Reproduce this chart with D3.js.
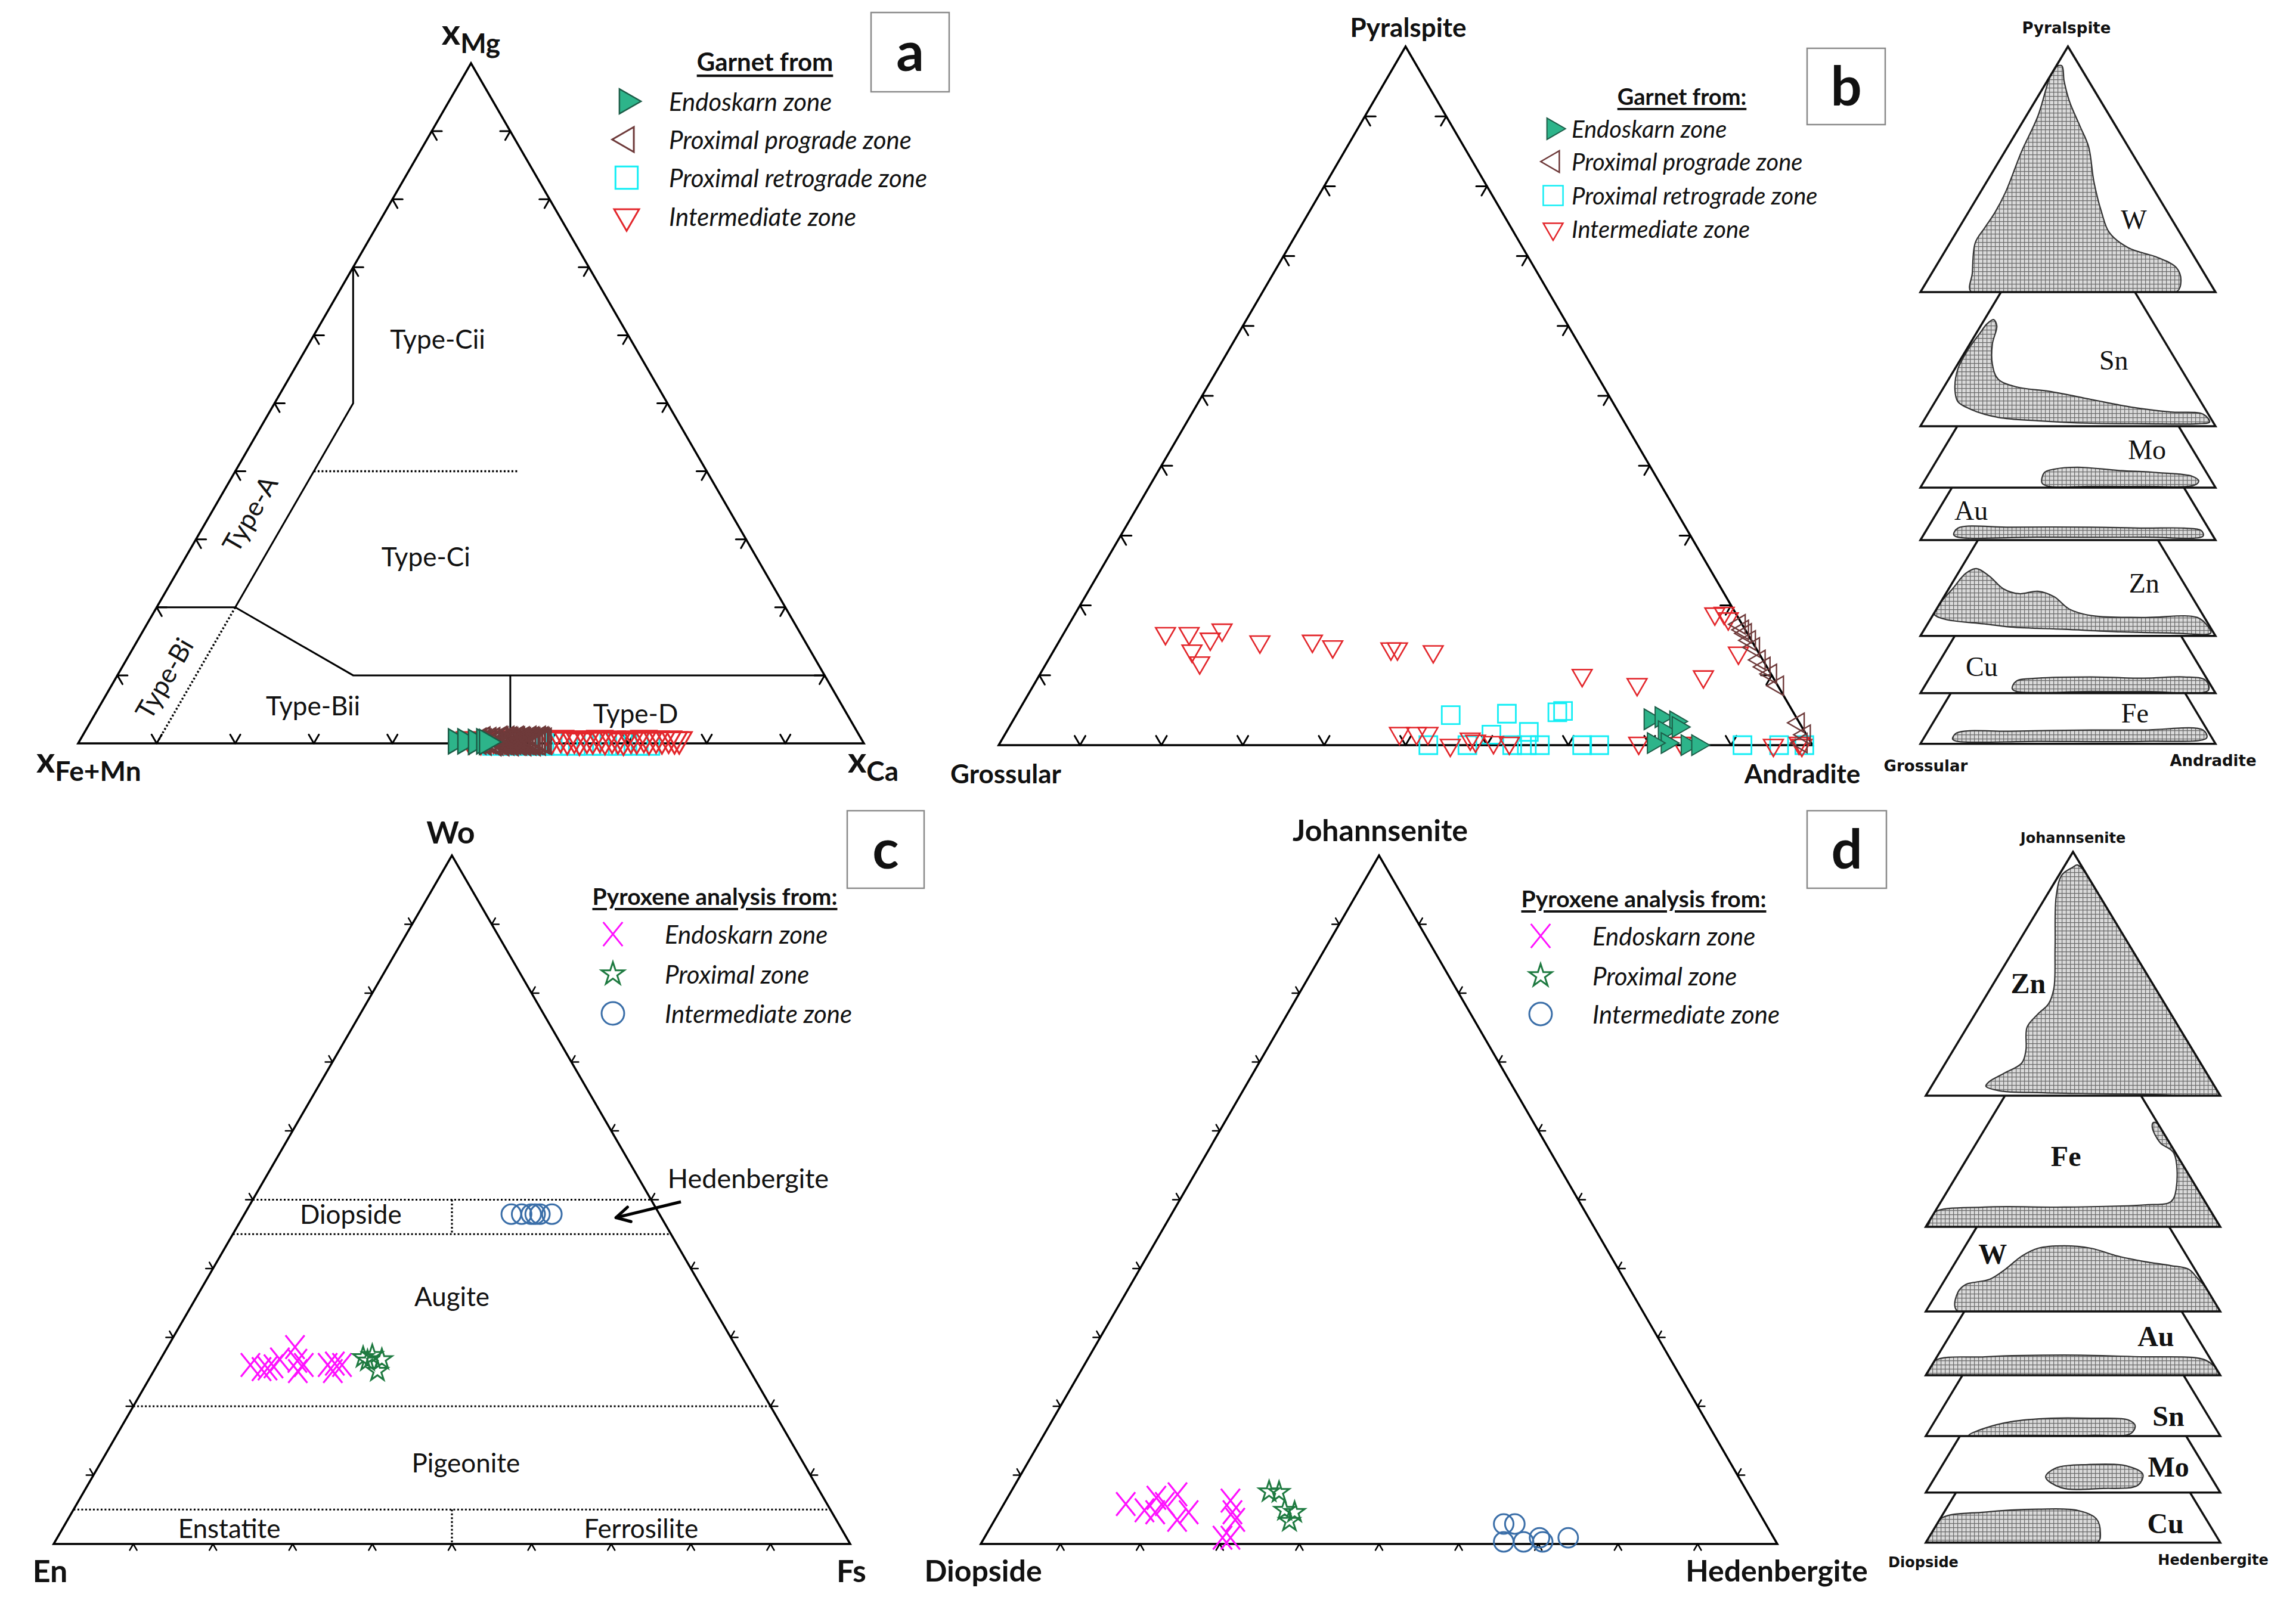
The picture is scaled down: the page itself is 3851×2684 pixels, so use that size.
<!DOCTYPE html>
<html>
<head>
<meta charset="utf-8">
<script src="https://cdn.jsdelivr.net/npm/d3@7"></script>
<style>
  body { margin: 0; background: #fff; }
  svg { display: block; }
  text { fill: #111; }
</style>
</head>
<body>
<div id="chart"></div>
<script>
// ---------- data (percent values) ----------
// panel a : [XCa, XMg]
const aEndoskarn = [[47.9, 0.3], [49.1, 0.3], [50.5, 0.2], [51.5, 0.3], [51.9, 0.2]];
const aPrograde = [[50.8, 0.3], [51.2, 0.5], [51.5, 0.2], [52.0, 0.4], [52.5, 0.4], [52.8, 0.1], [53.0, 0.2],
  [53.3, 0.6], [53.5, 0.5], [53.8, 0.1], [54.0, 0.3], [54.2, 0.6], [54.4, 0.2], [54.6, 0.5], [54.8, 0.4],
  [55.0, 0.1], [55.2, 0.3], [55.4, 0.6], [55.6, 0.5], [55.8, 0.2], [56.0, 0.2], [56.2, 0.5], [56.4, 0.4],
  [56.6, 0.1], [56.8, 0.3], [57.0, 0.6], [57.2, 0.2], [57.4, 0.5], [57.6, 0.4], [57.8, 0.1], [58.0, 0.3],
  [58.2, 0.6], [58.4, 0.2], [58.6, 0.5], [58.8, 0.4], [59.1, 0.3]];
const aRetrograde = [[53, 0], [55, 0], [57, 0], [59, 0], [61, 0], [63, 0], [65, 0], [67, 0], [69, 0], [71, 0], [72.5, 0]];
const aIntermediate = [[49.5, 0.6], [51, 0.5], [52.5, 0.7], [54, 0.6], [60, 0.6], [61, 0.8], [62, 0.5], [62.8, 0.7],
  [63.6, 0.4], [64.4, 0.7], [65.2, 0.6], [66, 0.8], [66.8, 0.5], [67.6, 0.7], [68.4, 0.6], [69.2, 0.4],
  [70, 0.7], [70.8, 0.6], [71.6, 0.8], [72.4, 0.5], [73.2, 0.7], [74, 0.6], [74.8, 0.7], [75.6, 0.6], [76.2, 0.6]];

// panel b : [Andradite, Pyralspite]
const bEndoskarn = [[78.2, 3.7], [79.4, 4.0], [81.5, 3.4], [80.8, 2.0], [82.2, 2.6], [82.0, 0.3], [84.6, 0], [85.9, 0], [80.3, 0.3]];
const bPrograde = [[82.4, 17.3], [83.2, 16.5], [83.8, 16.0], [84.8, 15.0], [85.8, 14.0], [87.4, 12.2], [88.5, 11.2],
  [89.8, 10.2], [91.5, 8.5], [96.7, 3.2], [98.3, 1.5], [98.5, 0.3]];
const bRetrograde = [[53.4, 4.3], [60.2, 4.5], [66.3, 4.7], [66.9, 4.9], [64.2, 1.9], [52.8, 0], [57.6, 0], [59.8, 1.5],
  [63.1, 0], [64.9, 0], [66.5, 0], [71.7, 0], [73.8, 0], [91.4, 0], [95.9, 0], [99.0, 0]];
const bIntermediate = [[12.5, 16.0], [15.4, 16.0], [19.2, 16.5], [18.4, 15.2], [17.0, 13.5], [18.8, 11.8], [24.7, 14.8],
  [31.1, 14.9], [34.0, 14.1], [41.3, 13.8], [42.1, 13.8], [46.7, 13.4], [66.7, 10.0], [74.1, 8.7], [81.7, 9.8],
  [78.6, 18.8], [79.7, 18.9], [80.6, 18.1], [84.3, 13.2], [48.4, 1.7], [50.5, 1.7], [51.9, 1.7], [55.5, 0],
  [57.5, 0.9], [58.3, 0.6], [60.6, 0.4], [62.6, 0.3], [78.5, 0.3], [83.7, 0.3], [95.2, 0], [98.2, 0.3], [98.7, 0]];

// panel c : [Fs, Wo]
const cEndoskarn = [[11.7, 26.0], [13.4, 25.4], [14.1, 25.5], [14.7, 25.8], [15.0, 26.8], [16.0, 28.6], [17.3, 26.6],
  [18.4, 26.0], [18.1, 25.1], [21.4, 26.0], [22.2, 26.2], [23.2, 26.0], [22.5, 25.1]];
const cProximal = [[25.3, 27.1], [26.3, 27.4], [27.8, 26.8], [28.1, 25.1], [26.1, 26.6]];
const cIntermediate = [[33.5, 47.9], [34.8, 47.9], [36.0, 47.9], [37.1, 47.9], [38.6, 47.9], [36.5, 47.9]];

// panel d : [Hedenbergite, Johannsenite]
const dEndoskarn = [[15.3, 5.8], [18.1, 4.9], [18.7, 6.7], [19.6, 4.6], [20.2, 5.8], [21.1, 7.2], [22.9, 3.5],
  [23.8, 4.6], [28.2, 6.3], [29.3, 4.6], [30.2, 3.5], [29.9, 0.9], [30.9, 0.9]];
const dProximal = [[32.4, 7.6], [33.7, 7.5], [35.7, 4.9], [37.1, 4.6], [37.1, 3.3]];
const dIntermediate = [[64.2, 2.9], [65.6, 2.9], [65.5, 0.3], [68.0, 0.3], [69.7, 0.9], [70.4, 0.3], [73.3, 0.9]];

// garnet classification fields (panel a), [XCa, XMg]
const typeLinesSolid = [
  [[0, 70], [10, 50], [10, 20], [0, 20]],
  [[10, 20], [30, 10], [90, 10]],
  [[50, 10], [55, 0]]
];
const typeLinesDotted = [[[10, 20], [10, 0]], [[10, 40], [36, 40]]];
const typeLabels = [
  { name: 'Type-Cii', at: [16, 59.5], rot: 0 }, { name: 'Type-Ci', at: [30.5, 27.5], rot: 0 },
  { name: 'Type-A', at: [4.9, 33.8], rot: -60 }, { name: 'Type-Bi', at: [6.1, 9.6], rot: -60 },
  { name: 'Type-Bii', at: [27.1, 5.6], rot: 0 }, { name: 'Type-D', at: [68.7, 4.5], rot: 0 }
];

// pyroxene fields (panel c), [Fs, Wo]
const pxLinesDotted = [[[0, 50], [50, 50]], [[0, 45], [55, 45]], [[25, 50], [27.5, 45]],
  [[0, 20], [80, 20]], [[0, 5], [95, 5]], [[47.5, 5], [50, 0]]];
const pxLabels = [
  { name: 'Diopside', at: [13.3, 48.0] }, { name: 'Augite', at: [32, 36] }, { name: 'Pigeonite', at: [45.8, 11.9] },
  { name: 'Enstatite', at: [20.9, 2.3] }, { name: 'Ferrosilite', at: [72.6, 2.3] }
];

// skarn type fields on the side stacks: [fraction along base, fraction of height]
const grtSlices = ['W', 'Sn', 'Mo', 'Au', 'Zn', 'Cu', 'Fe'];
const grtW = [[.172, 0], [.176, .078], [.186, .201], [.218, .262], [.253, .325], [.289, .408], [.343, .573], [.398, .716],
  [.434, .859], [.453, .913], [.479, .922], [.487, .859], [.505, .777], [.541, .675], [.570, .592], [.588, .449],
  [.614, .325], [.640, .243], [.705, .180], [.804, .141], [.867, .100], [.883, .046], [.867, 0], [.5, 0]];
const grtSn = [[.117, .150], [.127, .233], [.164, .316], [.200, .376], [.226, .417], [.248, .434], [.259, .408],
  [.244, .335], [.244, .252], [.263, .192], [.325, .160], [.442, .141], [.578, .109], [.713, .078], [.848, .058],
  [.958, .049], [.980, .017], [.939, .010], [.758, .010], [.578, .012], [.398, .022], [.263, .036], [.172, .068], [.127, .100]];
const grtMo = [[.412, .019], [.420, .061], [.453, .075], [.533, .083], [.669, .070], [.804, .061], [.921, .046],
  [.943, .027], [.929, .010], [.758, .005], [.578, .005], [.434, .005]];
const grtAu = [[.113, .022], [.127, .049], [.307, .053], [.578, .053], [.758, .049], [.893, .049], [.952, .039],
  [.958, .017], [.758, .012], [.398, .012], [.127, .012]];
const grtZn = [[.046, .090], [.065, .131], [.109, .192], [.154, .255], [.190, .274], [.234, .243], [.281, .192],
  [.335, .172], [.398, .182], [.453, .160], [.505, .109], [.578, .083], [.758, .075], [.939, .075], [.976, .036],
  [.984, .012], [.848, .012], [.669, .017], [.487, .027], [.307, .036], [.218, .049], [.083, .068]];
const grtCu = [[.311, .019], [.325, .049], [.398, .061], [.578, .066], [.758, .061], [.893, .066], [.966, .053],
  [.976, .012], [.758, .007], [.578, .007], [.325, .007]];
const grtFe = [[.109, .019], [.123, .044], [.307, .051], [.578, .056], [.758, .056], [.958, .056], [.970, .024],
  [.758, .010], [.398, .010], [.123, .010]];
const grtLabelAt = [[.723, .294], [.655, .269], [.768, .153], [.172, .121], [.758, .214], [.208, .107], [.727, .124]];

const pxSlices = ['Zn', 'Fe', 'W', 'Au', 'Sn', 'Mo', 'Cu'];
const pxZn = [[.204, .039], [.217, .059], [.263, .090], [.326, .134], [.340, .186], [.344, .281], [.381, .335],
  [.417, .377], [.435, .440], [.439, .609], [.443, .819], [.462, .905], [.498, .936], [.516, .946], [.60, .80],
  [.80, .40], [.97, .06], [1.0, 0], [.8, .004], [.6, .008], [.4, .012], [.25, .02]];
const pxFe = [[.010, .010], [.028, .059], [.200, .081], [.470, .081], [.741, .090], [.832, .103], [.850, .154],
  [.842, .303], [.796, .345], [.769, .408], [.773, .428], [.79, .42], [.90, .20], [1.0, 0], [.5, 0], [0, 0]];
const pxW = [[.105, .005], [.109, .078], [.135, .110], [.217, .132], [.271, .174], [.326, .227], [.381, .259],
  [.470, .269], [.561, .259], [.652, .227], [.741, .205], [.832, .188], [.891, .174], [.92, .14], [1.0, 0], [.5, 0]];
const pxAu = [[0, 0], [.03, .06], [.2, .076], [.47, .083], [.741, .076], [.923, .071], [.96, .056], [1.0, 0], [.5, 0]];
const pxSn = [[.146, .003], [.200, .032], [.290, .059], [.425, .073], [.561, .073], [.688, .066], [.711, .042],
  [.696, .010], [.561, .003], [.290, .003]];
const pxMo = [[.407, .064], [.44, .10], [.55, .115], [.68, .11], [.737, .075], [.72, .03], [.6, .017], [.46, .02]];
const pxCu = [[0, 0], [.05, .098], [.2, .125], [.381, .137], [.516, .132], [.579, .098], [.593, .037], [.585, .003], [.3, 0]];
const pxLabelAt = [[.348, .460], [.476, .291], [.227, .237], [.781, .161], [.824, .083], [.824, .105], [.814, .078]];

// ---------- layout ----------
const W = 3851, H = 2684;
const SANS = 'Lato, "Open Sans", sans-serif';
const SERIF = '"Liberation Serif", "Times New Roman", serif';
const VERD = '"DejaVu Sans", Verdana, sans-serif';
const frames = {
  a: { left: 131, right: 1449, base: 1247, top: 106, tick: 17, inward: true, stroke: 3.5, tickStroke: 3 },
  b: { left: 1675, right: 3040, base: 1250, top: 78, tick: 18, inward: true, stroke: 3.5, tickStroke: 3 },
  c: { left: 90, right: 1426, base: 2590, top: 1435, tick: 12, inward: false, stroke: 3.5, tickStroke: 2.5 },
  d: { left: 1645, right: 2981, base: 2590, top: 1435, tick: 12, inward: false, stroke: 3.5, tickStroke: 2.5 }
};
const sideB = { x0: 3221, x1: 3716, apex: 78, h: 412, gaps: [1, .546, .25, .214, .39, .233, .206] };
const sideD = { x0: 3230, x1: 3724, apex: 1429, h: 409, gaps: [1, .538, .347, .262, .249, .232, .205] };

const cross = {
  draw(ctx, size) {
    const w = Math.sqrt(size) * 0.42, h = Math.sqrt(size) * 0.52;
    ctx.moveTo(-w, -h); ctx.lineTo(w, h); ctx.moveTo(-w, h); ctx.lineTo(w, -h);
  }
};
const grtStyle = {
  endoskarn: { type: d3.symbolTriangle, rot: 90, fill: '#2db48a', stroke: '#1c5c47' },
  prograde: { type: d3.symbolTriangle, rot: -90, fill: 'none', stroke: '#6e3a3a' },
  retrograde: { type: d3.symbolSquare, rot: 0, fill: 'none', stroke: '#14eef5' },
  intermediate: { type: d3.symbolTriangle, rot: 180, fill: 'none', stroke: '#e3262b' }
};
const pxStyle = {
  endoskarn: { type: cross, rot: 0, fill: 'none', stroke: '#ff10ff' },
  proximal: { type: d3.symbolStar, rot: 0, fill: 'none', stroke: '#1e7a40' },
  intermediate: { type: d3.symbolCircle, rot: 0, fill: 'none', stroke: '#3a6ea8' }
};

// ---------- helpers ----------
const svg = d3.select('#chart').append('svg').attr('width', W).attr('height', H);
svg.append('rect').attr('width', W).attr('height', H).attr('fill', '#fff');
const defs = svg.append('defs');
const pat = defs.append('pattern').attr('id', 'ore').attr('width', 7).attr('height', 7)
  .attr('patternUnits', 'userSpaceOnUse');
pat.append('rect').attr('width', 7).attr('height', 7).attr('fill', '#dadada');
pat.append('path').attr('d', 'M0,0.6H7M0.6,0V7').attr('stroke', '#6a6a6a').attr('stroke-width', 1.2);

function ternary(g) {
  const sx = d3.scaleLinear().domain([0, 100]).range([g.left, g.right]);
  const sy = d3.scaleLinear().domain([0, 100]).range([g.base, g.top]);
  return (r, t) => [sx(r + t / 2), sy(t)];
}

function drawFrame(sel, P, g) {
  sel.append('path').attr('d', d3.line()([P(0, 0), P(100, 0), P(0, 100)]) + 'Z')
    .attr('fill', 'none').attr('stroke', '#000').attr('stroke-width', g.stroke);
  const dir = g.inward ? 1 : -1;
  const arms = [];
  d3.range(10, 100, 10).forEach(f => {
    arms.push([[f, 0], [f, 10], [f - 10, 10]]);
    arms.push([[0, f], [10, f], [10, f - 10]]);
    arms.push([[100 - f, f], [90 - f, f], [100 - f, f - 10]]);
  });
  const tg = sel.append('g').attr('stroke', '#000').attr('stroke-width', g.tickStroke).attr('stroke-linecap', 'round');
  arms.forEach(([o, a, b]) => {
    const p0 = P(...o);
    [a, b].forEach(q => {
      const p1 = P(...q);
      const dx = p1[0] - p0[0], dy = p1[1] - p0[1], n = Math.hypot(dx, dy);
      tg.append('line').attr('x1', p0[0]).attr('y1', p0[1])
        .attr('x2', p0[0] + dir * g.tick * dx / n).attr('y2', p0[1] + dir * g.tick * dy / n);
    });
  });
}

function drawPoints(sel, P, pts, st, size, sw) {
  const sym = d3.symbol().type(st.type).size(size);
  sel.append('g').selectAll('path').data(pts).join('path')
    .attr('d', sym)
    .attr('transform', d => { const [x, y] = P(d[0], d[1]); return `translate(${x},${y}) rotate(${st.rot})`; })
    .attr('fill', st.fill).attr('stroke', st.stroke).attr('stroke-width', sw).attr('stroke-linejoin', 'miter');
}

function drawLines(sel, P, lines, dotted, sw) {
  sel.append('g').selectAll('path').data(lines).join('path')
    .attr('d', d => d3.line()(d.map(p => P(p[0], p[1]))))
    .attr('fill', 'none').attr('stroke', '#000').attr('stroke-width', sw)
    .attr('stroke-dasharray', dotted ? '3,3.5' : null);
}

function label(sel, x, y, txt, o = {}) {
  return sel.append('text').attr('x', x).attr('y', y).text(txt)
    .attr('text-anchor', o.anchor || 'middle').attr('dominant-baseline', 'central')
    .style('font-family', o.family || SANS)
    .style('font-size', (o.size || 44) + 'px').style('font-weight', o.weight || 'normal')
    .style('font-style', o.style || 'normal').style('text-decoration', o.deco || null);
}

function legend(sel, title, tx, ty, tsize, items, sx, txx, ys, isize) {
  label(sel, tx, ty, title, { size: tsize, weight: 'bold', deco: 'underline' });
  items.forEach((it, i) => {
    sel.append('path').attr('d', d3.symbol().type(it.st.type).size(it.size)())
      .attr('transform', `translate(${sx},${ys[i]}) rotate(${it.st.rot})`)
      .attr('fill', it.st.fill).attr('stroke', it.st.stroke).attr('stroke-width', it.sw);
    label(sel, txx, ys[i], it.name, { anchor: 'start', size: isize, style: 'italic' });
  });
}

function panelBox(sel, x, y, w, h, letter) {
  sel.append('rect').attr('x', x).attr('y', y).attr('width', w).attr('height', h)
    .attr('fill', '#fff').attr('stroke', '#8a8a8a').attr('stroke-width', 2.5);
  label(sel, x + w / 2, y + h / 2 - 4, letter, { size: 92, weight: 'bold' });
}

function subLabel(sel, x, y, sub, anchor) {
  const t = sel.append('text').attr('x', x).attr('y', y).attr('text-anchor', anchor)
    .style('font-family', SANS).style('font-weight', 'bold');
  t.append('tspan').text('x').style('font-size', '60px');
  t.append('tspan').text(sub).style('font-size', '46px').attr('dy', 14);
}

function drawStack(sel, cfg, names, fields, labelAt, id, fontWeight, labelSize) {
  const cum = d3.cumsum(cfg.gaps);
  const slices = names.map((n, i) => ({ n, i, base: cfg.apex + cfg.h * cum[i] }));
  slices.slice().reverse().forEach(s => {
    const xu = d3.scaleLinear().domain([0, 1]).range([cfg.x0, cfg.x1]);
    const yv = d3.scaleLinear().domain([0, 1]).range([s.base, s.base - cfg.h]);
    const tri = d3.line()([[cfg.x0, s.base], [cfg.x1, s.base], [xu(0.5), s.base - cfg.h]]) + 'Z';
    const g = sel.append('g');
    defs.append('clipPath').attr('id', `${id}${s.i}`).append('path').attr('d', tri);
    g.append('path').attr('d', tri).attr('fill', '#fff');
    g.append('path')
      .attr('d', d3.line().curve(d3.curveCatmullRomClosed.alpha(0.5))(fields[s.i].map(p => [xu(p[0]), yv(p[1])])))
      .attr('clip-path', `url(#${id}${s.i})`)
      .attr('fill', 'url(#ore)').attr('stroke', '#333').attr('stroke-width', 2.2);
    g.append('path').attr('d', tri).attr('fill', 'none').attr('stroke', '#111').attr('stroke-width', 3.5)
      .attr('stroke-linejoin', 'miter');
    label(g, xu(labelAt[s.i][0]), yv(labelAt[s.i][1]), s.n,
      { size: labelSize, weight: fontWeight, family: SERIF });
  });
}

// ---------- panel a ----------
{
  const g = svg.append('g');
  const P = ternary(frames.a);
  drawLines(g, P, typeLinesSolid, false, 3);
  drawLines(g, P, typeLinesDotted, true, 3.5);
  drawFrame(g, P, frames.a);
  typeLabels.forEach(l => {
    const [x, y] = P(...l.at);
    label(g, x, y, l.name, { size: 44 }).attr('transform', l.rot ? `rotate(${l.rot},${x},${y})` : null);
  });
  drawPoints(g, P, aRetrograde, grtStyle.retrograde, 1500, 3);
  drawPoints(g, P, aIntermediate, grtStyle.intermediate, 760, 3.2);
  drawPoints(g, P, aPrograde, grtStyle.prograde, 760, 3.5);
  drawPoints(g, P, aEndoskarn, grtStyle.endoskarn, 760, 2.5);

  subLabel(g, 790, 75, 'Mg', 'middle');
  subLabel(g, 61, 1296, 'Fe+Mn', 'start');
  subLabel(g, 1422, 1296, 'Ca', 'start');

  legend(g, 'Garnet from', 1283, 103, 42, [
    { name: 'Endoskarn zone', st: grtStyle.endoskarn, size: 760, sw: 2.5 },
    { name: 'Proximal prograde zone', st: grtStyle.prograde, size: 760, sw: 3 },
    { name: 'Proximal retrograde zone', st: grtStyle.retrograde, size: 1400, sw: 3 },
    { name: 'Intermediate zone', st: grtStyle.intermediate, size: 760, sw: 3 }
  ], 1051, 1122, [170, 234, 298, 363], 42);
  panelBox(g, 1461, 21, 131, 133, 'a');
}

// ---------- panel b ----------
{
  const g = svg.append('g');
  const P = ternary(frames.b);
  drawFrame(g, P, frames.b);
  drawPoints(g, P, bRetrograde, grtStyle.retrograde, 900, 2.8);
  drawPoints(g, P, bIntermediate, grtStyle.intermediate, 470, 2.6);
  drawPoints(g, P, bPrograde, grtStyle.prograde, 450, 2.4);
  drawPoints(g, P, bEndoskarn, grtStyle.endoskarn, 520, 2);
  label(g, 2362, 45, 'Pyralspite', { size: 44, weight: 'bold' });
  label(g, 1687, 1297, 'Grossular', { size: 44, weight: 'bold' });
  label(g, 3023, 1297, 'Andradite', { size: 44, weight: 'bold' });
  legend(g, 'Garnet from:', 2821, 161, 38, [
    { name: 'Endoskarn zone', st: grtStyle.endoskarn, size: 560, sw: 2 },
    { name: 'Proximal prograde zone', st: grtStyle.prograde, size: 560, sw: 2.5 },
    { name: 'Proximal retrograde zone', st: grtStyle.retrograde, size: 1100, sw: 2.5 },
    { name: 'Intermediate zone', st: grtStyle.intermediate, size: 470, sw: 2.5 }
  ], 2605, 2636, [216, 271, 328, 384], 40);
  panelBox(g, 3031, 81, 131, 128, 'b');
}

// ---------- panel c ----------
{
  const g = svg.append('g');
  const P = ternary(frames.c);
  drawLines(g, P, pxLinesDotted, true, 3.2);
  drawFrame(g, P, frames.c);
  pxLabels.forEach(l => { const [x, y] = P(...l.at); label(g, x, y, l.name, { size: 44 }); });
  const [hx, hy] = P(60.6, 53.2);
  label(g, hx, hy, 'Hedenbergite', { size: 45 });
  const a0 = P(53.9, 49.7), a1 = P(46.9, 47.4);
  g.append('line').attr('x1', a0[0]).attr('y1', a0[1]).attr('x2', a1[0]).attr('y2', a1[1])
    .attr('stroke', '#000').attr('stroke-width', 5);
  const ang = Math.atan2(a1[1] - a0[1], a1[0] - a0[0]);
  [0.5, -0.5].forEach(da => {
    g.append('line').attr('x1', a1[0]).attr('y1', a1[1])
      .attr('x2', a1[0] - 26 * Math.cos(ang + da)).attr('y2', a1[1] - 26 * Math.sin(ang + da))
      .attr('stroke', '#000').attr('stroke-width', 5).attr('stroke-linecap', 'round');
  });
  drawPoints(g, P, cIntermediate, pxStyle.intermediate, 850, 3);
  drawPoints(g, P, cEndoskarn, pxStyle.endoskarn, 1444, 3.2);
  drawPoints(g, P, cProximal, pxStyle.proximal, 360, 3);
  label(g, 756, 1395, 'Wo', { size: 52, weight: 'bold' });
  label(g, 84, 2634, 'En', { size: 52, weight: 'bold' });
  label(g, 1428, 2634, 'Fs', { size: 52, weight: 'bold' });
  legend(g, 'Pyroxene analysis from:', 1199, 1503, 39, [
    { name: 'Endoskarn zone', st: pxStyle.endoskarn, size: 1500, sw: 3 },
    { name: 'Proximal zone', st: pxStyle.proximal, size: 450, sw: 3 },
    { name: 'Intermediate zone', st: pxStyle.intermediate, size: 1130, sw: 3 }
  ], 1028, 1115, [1567, 1634, 1700], 42);
  panelBox(g, 1421, 1360, 129, 130, 'c');
}

// ---------- panel d ----------
{
  const g = svg.append('g');
  const P = ternary(frames.d);
  drawFrame(g, P, frames.d);
  drawPoints(g, P, dIntermediate, pxStyle.intermediate, 850, 3);
  drawPoints(g, P, dEndoskarn, pxStyle.endoskarn, 1444, 3.2);
  drawPoints(g, P, dProximal, pxStyle.proximal, 360, 3);
  label(g, 2315, 1392, 'Johannsenite', { size: 50, weight: 'bold' });
  label(g, 1649, 2634, 'Diopside', { size: 50, weight: 'bold' });
  label(g, 2980, 2634, 'Hedenbergite', { size: 50, weight: 'bold' });
  legend(g, 'Pyroxene analysis from:', 2757, 1507, 39, [
    { name: 'Endoskarn zone', st: pxStyle.endoskarn, size: 1500, sw: 3 },
    { name: 'Proximal zone', st: pxStyle.proximal, size: 450, sw: 3 },
    { name: 'Intermediate zone', st: pxStyle.intermediate, size: 1130, sw: 3 }
  ], 2584, 2671, [1570, 1637, 1701], 42);
  panelBox(g, 3031, 1360, 133, 130, 'd');
}

// ---------- side stacks ----------
{
  const g = svg.append('g');
  drawStack(g, sideB, grtSlices, [grtW, grtSn, grtMo, grtAu, grtZn, grtCu, grtFe], grtLabelAt, 'clipB', 'normal', 46);
  label(g, 3466, 47, 'Pyralspite', { size: 26, weight: 'bold', family: VERD });
  label(g, 3230, 1285, 'Grossular', { size: 26, weight: 'bold', family: VERD });
  label(g, 3712, 1276, 'Andradite', { size: 26, weight: 'bold', family: VERD });

  const g2 = svg.append('g');
  drawStack(g2, sideD, pxSlices, [pxZn, pxFe, pxW, pxAu, pxSn, pxMo, pxCu], pxLabelAt, 'clipD', 'bold', 48);
  label(g2, 3477, 1406, 'Johannsenite', { size: 24, weight: 'bold', family: VERD });
  label(g2, 3226, 2621, 'Diopside', { size: 24, weight: 'bold', family: VERD });
  label(g2, 3712, 2617, 'Hedenbergite', { size: 24, weight: 'bold', family: VERD });
}
</script>
</body>
</html>
